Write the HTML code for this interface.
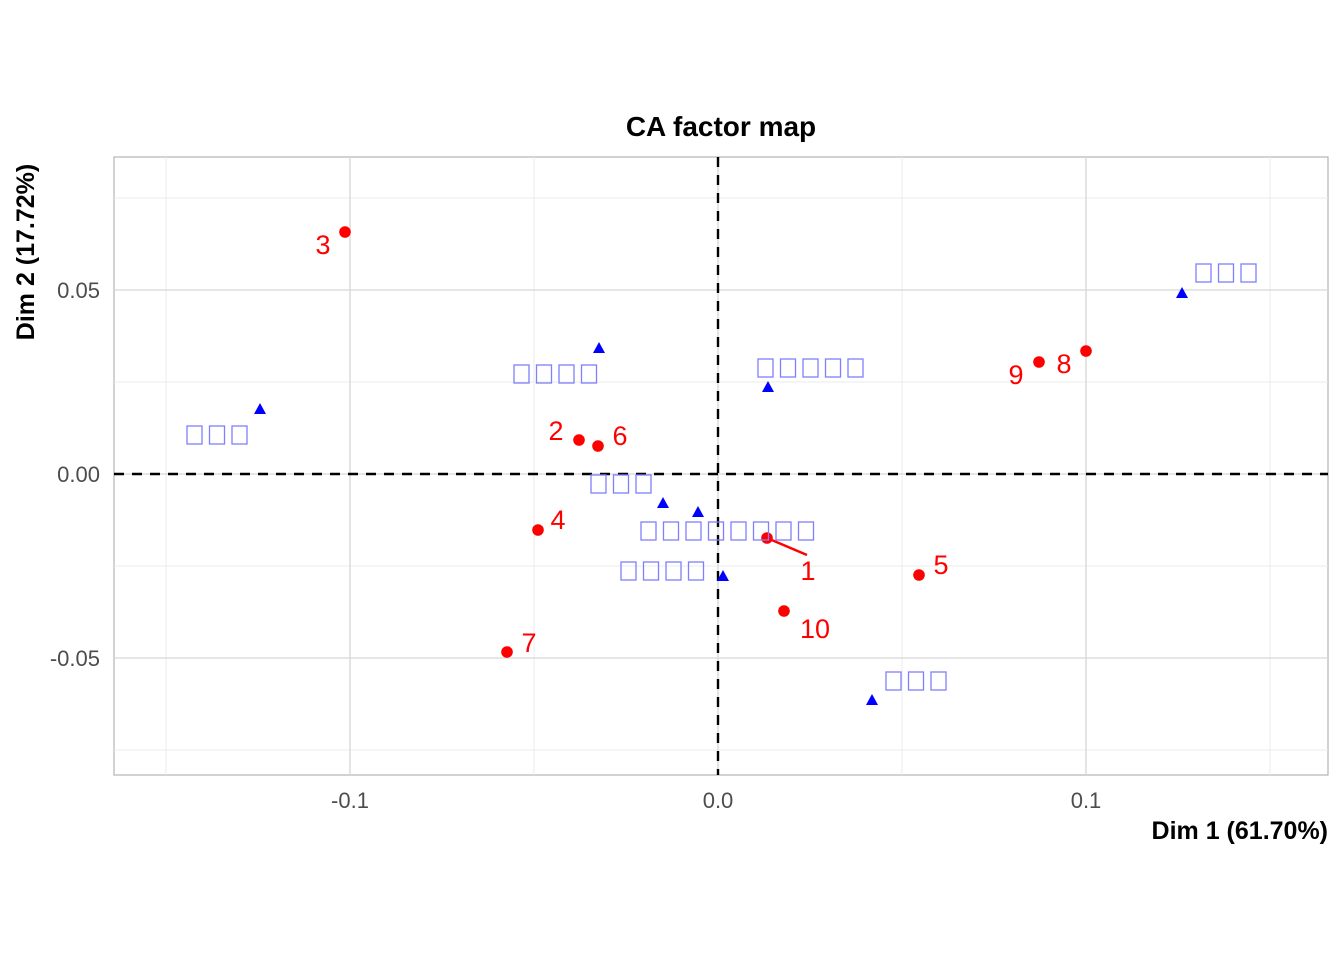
<!DOCTYPE html>
<html><head><meta charset="utf-8"><style>body{margin:0;background:#fff}svg{display:block}</style></head><body>
<svg width="1344" height="960" xmlns="http://www.w3.org/2000/svg" font-family="Liberation Sans, Arial, sans-serif">
<rect x="114" y="157" width="1214" height="618" fill="#fff" stroke="#b3b3b3" stroke-width="1.2"/>
<g stroke="#ebebeb" stroke-width="1">
<line x1="166" y1="157" x2="166" y2="775"/><line x1="534" y1="157" x2="534" y2="775"/><line x1="902" y1="157" x2="902" y2="775"/><line x1="1270" y1="157" x2="1270" y2="775"/>
<line x1="114" y1="198" x2="1328" y2="198"/><line x1="114" y1="382" x2="1328" y2="382"/><line x1="114" y1="566" x2="1328" y2="566"/><line x1="114" y1="750" x2="1328" y2="750"/>
</g>
<g stroke="#d6d6d6" stroke-width="1.3">
<line x1="350" y1="157" x2="350" y2="775"/><line x1="718" y1="157" x2="718" y2="775"/><line x1="1086" y1="157" x2="1086" y2="775"/>
<line x1="114" y1="290" x2="1328" y2="290"/><line x1="114" y1="474" x2="1328" y2="474"/><line x1="114" y1="658" x2="1328" y2="658"/>
</g>
<g stroke="#000" stroke-width="2.4" stroke-dasharray="10,8">
<line x1="114" y1="474" x2="1328" y2="474"/><line x1="718" y1="157" x2="718" y2="775"/>
</g>
<g font-size="22" fill="#4d4d4d">
<text x="100" y="298" text-anchor="end">0.05</text>
<text x="100" y="482" text-anchor="end">0.00</text>
<text x="100" y="666" text-anchor="end">-0.05</text>
<text x="350" y="808" text-anchor="middle">-0.1</text>
<text x="718" y="808" text-anchor="middle">0.0</text>
<text x="1086" y="808" text-anchor="middle">0.1</text>
</g>
<text x="721" y="136" font-size="28" font-weight="bold" text-anchor="middle">CA factor map</text>
<text x="1328" y="839" font-size="25" font-weight="bold" text-anchor="end">Dim 1 (61.70%)</text>
<text transform="translate(34,252) rotate(-90)" font-size="25" font-weight="bold" text-anchor="middle">Dim 2 (17.72%)</text>
<g fill="#0000ff">
<polygon points="1182,287 1176,298 1188,298"/><polygon points="599,342 593,353 605,353"/>
<polygon points="260,403 254,414 266,414"/><polygon points="768,381 762,392 774,392"/>
<polygon points="663,497 657,508 669,508"/><polygon points="698,506 692,517 704,517"/>
<polygon points="723,570 717,581 729,581"/><polygon points="872,694 866,705 878,705"/>
</g>
<line x1="767" y1="538" x2="807" y2="555" stroke="#f00" stroke-width="2.4"/>
<g fill="#f00">
<circle cx="345" cy="232" r="5.8"/><circle cx="579" cy="440" r="5.8"/><circle cx="598" cy="446" r="5.8"/>
<circle cx="538" cy="530" r="5.8"/><circle cx="767" cy="538" r="5.8"/><circle cx="919" cy="575" r="5.8"/>
<circle cx="784" cy="611" r="5.8"/><circle cx="507" cy="652" r="5.8"/><circle cx="1039" cy="362" r="5.8"/>
<circle cx="1086" cy="351" r="5.8"/>
</g>
<g fill="#f00" font-size="27" text-anchor="middle">
<text x="323" y="254">3</text><text x="556" y="440">2</text><text x="620" y="445">6</text>
<text x="558" y="529">4</text><text x="808" y="580">1</text><text x="941" y="574">5</text>
<text x="815" y="638">10</text><text x="529" y="652">7</text><text x="1016" y="384">9</text>
<text x="1064" y="373">8</text>
</g>
<g fill="none" stroke="#7f7fff" stroke-width="1.3">
<rect x="1196" y="264" width="15" height="18"/><rect x="1218.5" y="264" width="15" height="18"/><rect x="1241" y="264" width="15" height="18"/>
<rect x="758" y="359" width="15" height="18"/><rect x="780.5" y="359" width="15" height="18"/><rect x="803" y="359" width="15" height="18"/><rect x="825.5" y="359" width="15" height="18"/><rect x="848" y="359" width="15" height="18"/>
<rect x="514" y="365" width="15" height="18"/><rect x="536.5" y="365" width="15" height="18"/><rect x="559" y="365" width="15" height="18"/><rect x="581.5" y="365" width="15" height="18"/>
<rect x="187" y="426" width="15" height="18"/><rect x="209.5" y="426" width="15" height="18"/><rect x="232" y="426" width="15" height="18"/>
<rect x="591" y="475" width="15" height="18"/><rect x="613.5" y="475" width="15" height="18"/><rect x="636" y="475" width="15" height="18"/>
<rect x="641" y="522" width="15" height="18"/><rect x="663.5" y="522" width="15" height="18"/><rect x="686" y="522" width="15" height="18"/><rect x="708.5" y="522" width="15" height="18"/><rect x="731" y="522" width="15" height="18"/><rect x="753.5" y="522" width="15" height="18"/><rect x="776" y="522" width="15" height="18"/><rect x="798.5" y="522" width="15" height="18"/>
<rect x="621" y="562" width="15" height="18"/><rect x="643.5" y="562" width="15" height="18"/><rect x="666" y="562" width="15" height="18"/><rect x="688.5" y="562" width="15" height="18"/>
<rect x="886" y="672" width="15" height="18"/><rect x="908.5" y="672" width="15" height="18"/><rect x="931" y="672" width="15" height="18"/>
</g>
</svg>
</body></html>
